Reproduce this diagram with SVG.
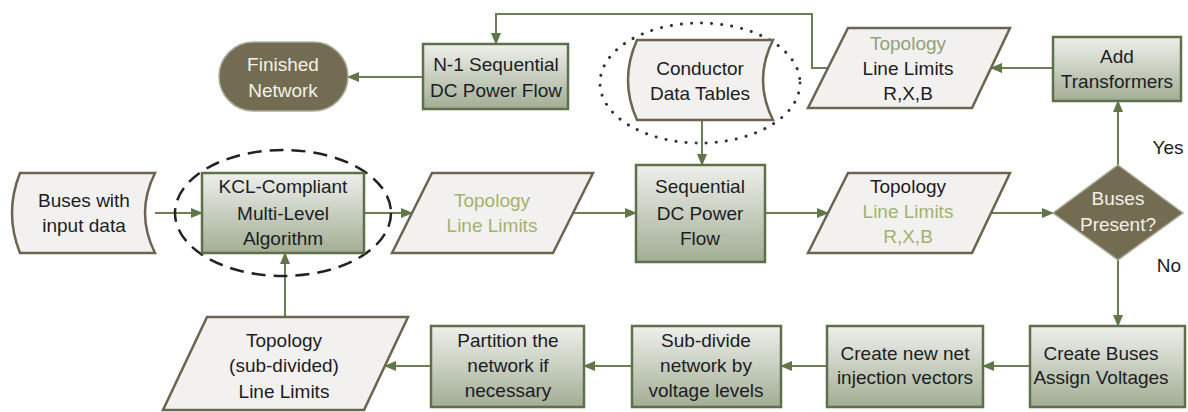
<svg xmlns="http://www.w3.org/2000/svg" width="1188" height="412" viewBox="0 0 1188 412">
  <defs>
    <linearGradient id="boxFill" x1="0" y1="0" x2="0" y2="1">
      <stop offset="0" stop-color="#eef0ec"/>
      <stop offset="1" stop-color="#a2ad94"/>
    </linearGradient>
    <marker id="arrow" viewBox="0 0 12 10" refX="11" refY="5" markerWidth="12" markerHeight="10" markerUnits="userSpaceOnUse" orient="auto">
      <path d="M0,0 L12,5 L0,10 Z" fill="#5f7648"/>
    </marker>
    <style>
      .box { fill: url(#boxFill); stroke: #5e6f4b; stroke-width: 2.5; }
      .data { fill: #f2f1ef; stroke: #6b6450; stroke-width: 2.5; }
      .dark { fill: #736b52; stroke: #a9ae98; stroke-width: 1.5; }
      .conn { fill: none; stroke: #6a7f56; stroke-width: 2; }
      .conn-arrow { fill: none; stroke: #6a7f56; stroke-width: 2; marker-end: url(#arrow); }
      text { font-family: "Liberation Sans", Arial, sans-serif; font-size: 19px; text-anchor: middle; fill: #1c1c24; }
      .light { fill: #f2f1e6; }
      .green { fill: #a2b36e; }
      .grey-green { fill: #90a27c; }
      .label { font-size: 19px; fill: #1c1c24; }
    </style>
  </defs>

  <!-- connectors -->
  <g id="connectors">
    <path class="conn-arrow" d="M155,213 H202"/>
    <path class="conn-arrow" d="M364,213 H412"/>
    <path class="conn-arrow" d="M573,213 H636"/>
    <path class="conn-arrow" d="M702,120 V165"/>
    <path class="conn-arrow" d="M765,213 H828"/>
    <path class="conn-arrow" d="M991,213 H1053"/>
    <path class="conn-arrow" d="M1118,165 V101"/>
    <path class="conn-arrow" d="M1053,68 H991"/>
    <path class="conn-arrow" d="M828,68 H812 V14 H496 V44"/>
    <path class="conn-arrow" d="M423,77 H348"/>
    <path class="conn-arrow" d="M1118,260 V326"/>
    <path class="conn-arrow" d="M1030,366 H983"/>
    <path class="conn-arrow" d="M827,366 H781"/>
    <path class="conn-arrow" d="M632,366 H584"/>
    <path class="conn-arrow" d="M431,366 H385"/>
    <path class="conn-arrow" d="M285,317 V253"/>
  </g>

  <!-- highlight rings -->
  <ellipse id="ring-kcl" cx="283" cy="213" rx="108" ry="63" fill="none" stroke="#222" stroke-width="2.5" stroke-dasharray="14 8"/>
  <ellipse id="ring-conductor" cx="700" cy="83" rx="100" ry="60" fill="none" stroke="#333" stroke-width="3" stroke-linecap="round" stroke-dasharray="0.1 10"/>

  <g id="finished-network">
    <rect class="dark" x="219" y="42" width="129" height="69" rx="34.5"/>
    <text class="light" x="283" y="71">Finished</text>
    <text class="light" x="283" y="97">Network</text>
  </g>

  <g id="n1-dc-flow">
    <rect class="box" x="423" y="44" width="145" height="65"/>
    <text x="496" y="71">N-1 Sequential</text>
    <text x="496" y="97">DC Power Flow</text>
  </g>

  <g id="conductor-tables">
    <path class="data" d="M637,40 H773 Q753,80 773,120 H637 Q619,80 637,40 Z"/>
    <text x="700" y="75">Conductor</text>
    <text x="700" y="100">Data Tables</text>
  </g>

  <g id="topology-rxb-top">
    <path class="data" d="M848,28 H1010 L972,108 H808 Z"/>
    <text class="grey-green" x="908" y="50">Topology</text>
    <text x="908" y="75">Line Limits</text>
    <text x="908" y="100">R,X,B</text>
  </g>

  <g id="add-transformers">
    <rect class="box" x="1053" y="37" width="128" height="64"/>
    <text x="1117" y="63">Add</text>
    <text x="1117" y="88">Transformers</text>
  </g>

  <g id="buses-input">
    <path class="data" d="M20,173 H155 Q135,213 155,253 H20 Q4,213 20,173 Z"/>
    <text x="84" y="207">Buses with</text>
    <text x="84" y="232">input data</text>
  </g>

  <g id="kcl-algorithm">
    <rect class="box" x="202" y="173" width="162" height="80"/>
    <text x="283" y="193">KCL-Compliant</text>
    <text x="283" y="220">Multi-Level</text>
    <text x="283" y="245">Algorithm</text>
  </g>

  <g id="topology-limits">
    <path class="data" d="M432,173 H593 L553,253 H392 Z"/>
    <text class="green" x="492" y="207">Topology</text>
    <text class="green" x="492" y="232">Line Limits</text>
  </g>

  <g id="sequential-dc-flow">
    <rect class="box" x="636" y="165" width="129" height="97"/>
    <text x="700" y="193">Sequential</text>
    <text x="700" y="220">DC Power</text>
    <text x="700" y="245">Flow</text>
  </g>

  <g id="topology-rxb">
    <path class="data" d="M848,173 H1010 L972,253 H808 Z"/>
    <text x="908" y="193">Topology</text>
    <text class="green" x="908" y="218">Line Limits</text>
    <text class="green" x="908" y="243">R,X,B</text>
  </g>

  <g id="buses-present">
    <path class="dark" d="M1118,165 L1183,213 L1118,260 L1053,213 Z"/>
    <text class="light" x="1118" y="205">Buses</text>
    <text class="light" x="1118" y="231">Present?</text>
  </g>
  <text x="1168" y="154">Yes</text>
  <text x="1169" y="272">No</text>

  <g id="create-buses">
    <rect class="box" x="1030" y="326" width="155" height="81"/>
    <text x="1101" y="360">Create Buses</text>
    <text x="1101" y="384">Assign Voltages</text>
  </g>

  <g id="net-injection">
    <rect class="box" x="827" y="326" width="156" height="81"/>
    <text x="905" y="360">Create new net</text>
    <text x="905" y="384">injection vectors</text>
  </g>

  <g id="sub-divide">
    <rect class="box" x="632" y="326" width="149" height="81"/>
    <text x="706" y="347">Sub-divide</text>
    <text x="706" y="372">network by</text>
    <text x="706" y="397">voltage levels</text>
  </g>

  <g id="partition">
    <rect class="box" x="431" y="326" width="153" height="81"/>
    <text x="508" y="347">Partition the</text>
    <text x="508" y="372">network if</text>
    <text x="508" y="397">necessary</text>
  </g>

  <g id="topology-subdivided">
    <path class="data" d="M207,317 H408 L364,410 H163 Z"/>
    <text x="284" y="347">Topology</text>
    <text x="284" y="372">(sub-divided)</text>
    <text x="284" y="398">Line Limits</text>
  </g>
</svg>
